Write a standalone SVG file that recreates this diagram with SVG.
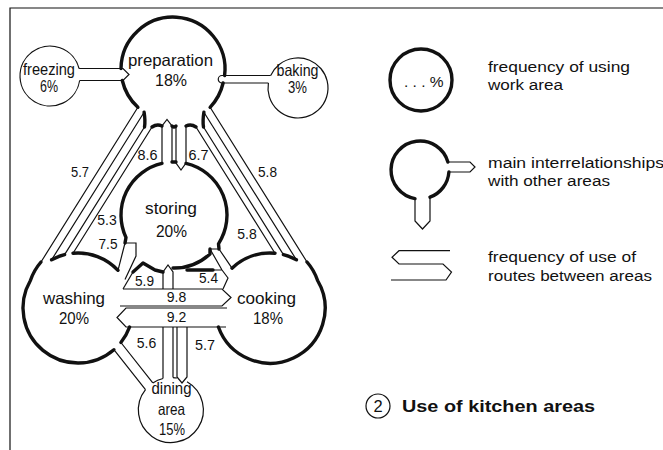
<svg xmlns="http://www.w3.org/2000/svg" width="663" height="450" viewBox="0 0 663 450">
<style>
.tk{fill:none;stroke:#111;stroke-width:3.4;stroke-linecap:round;stroke-linejoin:round}
.tn{fill:none;stroke:#111;stroke-width:1.2;stroke-linejoin:miter}
.lb{font-family:"Liberation Sans",Arial,Helvetica,sans-serif;font-size:16.5px;fill:#111;text-anchor:middle}
.nm{font-family:"Liberation Sans",Arial,Helvetica,sans-serif;font-size:15.5px;fill:#111;text-anchor:middle}
.lg{font-family:"Liberation Sans",Arial,Helvetica,sans-serif;font-size:15.5px;fill:#111}
.tt{font-family:"Liberation Sans",Arial,Helvetica,sans-serif;font-size:17px;font-weight:bold;fill:#111}
</style>
<rect width="663" height="450" fill="#fff"/>
<path class="tn" d="M10,450 V8 H663" stroke-width="1.6"/>

<g id="preparation">
<path class="tk" d="M121,68.5 A52,52 0 1,1 224.6,75.5"/>
<path class="tk" d="M122.3,80.5 A52,52 0 0,0 137.9,107.3"/>
<path class="tk" d="M223.1,83 A52,52 0 0,1 210.1,107.3"/>
<path class="tk" d="M144.1,112.2 Q145.5,121 144.5,127 M203.9,112.2 Q202.5,121 203.5,127"/>
<path class="tk" d="M152,127 Q157,123.5 162,126 M186,126 Q191,123.5 196,127 M172,126 Q174,128 176,126"/>
<text class="lb" x="170.5" y="66" textLength="85" lengthAdjust="spacingAndGlyphs">preparation</text>
<text class="lb" x="171" y="86" textLength="32" lengthAdjust="spacingAndGlyphs">18%</text>
</g>

<g id="freezing">
<path class="tn" d="M79.66,80.5 A30,30 0 1,1 79.05,68.5"/>
<text class="lb" x="49" y="75" font-size="15.5" textLength="52" lengthAdjust="spacingAndGlyphs">freezing</text>
<text class="lb" x="49" y="92" font-size="15.5" textLength="18" lengthAdjust="spacingAndGlyphs">6%</text>
</g>

<g id="baking">
<path class="tn" d="M270.7,75.5 A30,30 0 1,1 268.4,83"/>
<text class="lb" x="297.5" y="76" font-size="15.5" textLength="42" lengthAdjust="spacingAndGlyphs">baking</text>
<text class="lb" x="297.5" y="93" font-size="15.5" textLength="19" lengthAdjust="spacingAndGlyphs">3%</text>
</g>

<g id="storing">
<path class="tk" d="M125,243 L126,237.5 A53,53 0 0,1 162,163.4"/>
<path class="tk" d="M172,162 A53,53 0 0,1 176,162"/>
<path class="tk" d="M186,163.4 A53,53 0 0,1 218.5,243.8 L219,249"/>
<path class="tk" d="M173,268 A53,53 0 0,0 210,253.9 L210,249"/>
<path class="tk" d="M133,272 L143,263 L155,270 L163,272"/>
<path class="tk" d="M187,270 H213"/>
<text class="lb" x="171" y="214" textLength="52" lengthAdjust="spacingAndGlyphs">storing</text>
<text class="lb" x="171.5" y="237" textLength="31" lengthAdjust="spacingAndGlyphs">20%</text>
</g>

<g id="washing">
<path class="tk" d="M41,262 Q34,270 30.4,280.5 A55,55 0 0,0 113.9,349.7"/>
<path class="tk" d="M51.6,259.8 A55,55 0 0,1 64.6,254.6"/>
<path class="tk" d="M73,253.2 A55,55 0 0,1 118,270.3"/>
<path class="tk" d="M120.9,342.5 A55,55 0 0,0 129.6,327"/>
<text class="lb" x="74" y="304" textLength="62" lengthAdjust="spacingAndGlyphs">washing</text>
<text class="lb" x="74" y="324" textLength="30" lengthAdjust="spacingAndGlyphs">20%</text>
</g>

<g id="cooking">
<path class="tk" d="M307,262 Q314,270 317.6,280.5 A55,55 0 1,1 218.4,327"/>
<path class="tk" d="M296.4,259.8 A55,55 0 0,0 283.4,254.6"/>
<path class="tk" d="M275,253.2 A55,55 0 0,0 232,268.2"/>
<text class="lb" x="266.5" y="304" textLength="59" lengthAdjust="spacingAndGlyphs">cooking</text>
<text class="lb" x="268" y="324" textLength="30" lengthAdjust="spacingAndGlyphs">18%</text>
</g>

<g id="dining">
<path class="tn" d="M187,381.8 A32.5,32.5 0 1,1 145.5,389.7 M152.8,382.9 A32.5,32.5 0 0,1 163,378.5 M173,377.6 A32.5,32.5 0 0,1 177,378"/>
<text class="lb" x="171.5" y="394" textLength="40" lengthAdjust="spacingAndGlyphs">dining</text>
<text class="lb" x="171.5" y="415" textLength="27" lengthAdjust="spacingAndGlyphs">area</text>
<text class="lb" x="172" y="435" textLength="26" lengthAdjust="spacingAndGlyphs">15%</text>
</g>

<g id="connectors">
<path class="tn" d="M79.05,68.5 H123 L129,74.5 L123,80.5 H79.66"/>
<path class="tn" d="M270.7,75.5 H222 A3.75,3.75 0 0,0 222,83 H268.4"/>
<path class="tn" d="M137.9,107.3 L41,262 M144.1,112.2 L51.6,259.8 M144.5,127 L64.6,254.6 M152,127 L73,253.2"/>
<path class="tn" d="M210.1,107.3 L307,262 M203.9,112.2 L296.4,259.8 M203.5,127 L283.4,254.6 M196,127 L275,253.2"/>
<path class="tn" d="M162,163.4 V126 L167,119.5 L172,126 V162"/>
<path class="tn" d="M176,126 V163 L181,170 L186,163 V126"/>
<path class="tn" d="M125,243 L118,270.3 M125,243 H136 V256 L125,279.4"/>
<path class="tn" d="M123,289 L133,272"/>
<path class="tn" d="M163,289 V272 L168,265 L173,272 V289"/>
<path class="tn" d="M210,249 H219 M210,249 L222,270 M219,249 L232,268.2 M213,270 H222 L228,278 L223,289"/>
<path class="tn" d="M123,289 H222 L231,297.5 L222,306 H120"/>
<path class="tn" d="M227,308 H126 L117,317.5 L126,327 H226"/>
<path class="tn" d="M113.9,349.7 L145.5,389.7 M120.9,342.5 L152.8,382.9"/>
<path class="tn" d="M163,327 V378.5 M173,327 V377.6 M177,327 V377 L182,383 L187,377 V327"/>
</g>

<g id="route-labels">
<text class="nm" x="80" y="177" textLength="18" lengthAdjust="spacingAndGlyphs">5.7</text>
<text class="nm" x="147.5" y="160" textLength="20" lengthAdjust="spacingAndGlyphs">8.6</text>
<text class="nm" x="198.5" y="160" textLength="20" lengthAdjust="spacingAndGlyphs">6.7</text>
<text class="nm" x="267.5" y="177" textLength="19" lengthAdjust="spacingAndGlyphs">5.8</text>
<text class="nm" x="107" y="225" textLength="19.5" lengthAdjust="spacingAndGlyphs">5.3</text>
<text class="nm" x="108" y="249" textLength="19" lengthAdjust="spacingAndGlyphs">7.5</text>
<text class="nm" x="247" y="239" textLength="19.5" lengthAdjust="spacingAndGlyphs">5.8</text>
<text class="nm" x="144.5" y="286" textLength="19" lengthAdjust="spacingAndGlyphs">5.9</text>
<text class="nm" x="208.5" y="283" textLength="19" lengthAdjust="spacingAndGlyphs">5.4</text>
<text class="nm" x="176.5" y="302" textLength="19.5" lengthAdjust="spacingAndGlyphs">9.8</text>
<text class="nm" x="176.5" y="322" textLength="19.5" lengthAdjust="spacingAndGlyphs">9.2</text>
<text class="nm" x="146.5" y="348" textLength="19.5" lengthAdjust="spacingAndGlyphs">5.6</text>
<text class="nm" x="205" y="350" textLength="20" lengthAdjust="spacingAndGlyphs">5.7</text>
</g>

<g id="legend-frequency">
<circle class="tk" cx="421" cy="80" r="31"/>
<text class="lg" x="404" y="87" font-size="13">. . . %</text>
<text class="lg" x="488" y="72" textLength="142" lengthAdjust="spacingAndGlyphs">frequency of using</text>
<text class="lg" x="488" y="90" textLength="75" lengthAdjust="spacingAndGlyphs">work area</text>
</g>

<g id="legend-relations">
<path class="tk" d="M448.9,172 A29,29 0 0,1 430,197.2 M415,198.6 A29,29 0 1,1 447.9,162"/>
<path class="tn" d="M447.9,162 H470 L475,167 L470,172 H448.9 M415,198.6 V221 L422.5,229 L430,221 V197.2"/>
<text class="lg" x="488" y="168" textLength="176" lengthAdjust="spacingAndGlyphs">main interrelationships</text>
<text class="lg" x="488" y="186" textLength="122" lengthAdjust="spacingAndGlyphs">with other areas</text>
</g>

<g id="legend-routes">
<path class="tn" d="M450,250.7 H399 L392,257.3 L399,264 H443 L451.5,272 L446,280 H391"/>
<text class="lg" x="488" y="262" textLength="148" lengthAdjust="spacingAndGlyphs">frequency of use of</text>
<text class="lg" x="488" y="281" textLength="164" lengthAdjust="spacingAndGlyphs">routes between areas</text>
</g>

<g id="title">
<circle class="tn" cx="378" cy="406" r="12"/>
<text class="lb" x="378" y="412" font-size="16">2</text>
<text class="tt" x="402" y="412" textLength="193" lengthAdjust="spacingAndGlyphs">Use of kitchen areas</text>
</g>
</svg>
